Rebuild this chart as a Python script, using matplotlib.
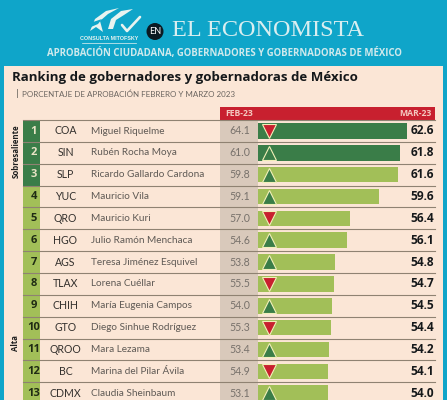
import matplotlib
matplotlib.use("Agg")
import matplotlib.pyplot as plt
from matplotlib.patches import Rectangle, Polygon, Circle

# data
ranks = list(range(1, 14))
states = ["COA", "SIN", "SLP", "YUC", "QRO", "HGO", "AGS", "TLAX", "CHIH", "GTO", "QROO", "BC", "CDMX"]
names = ["Miguel Riquelme", "Rubén Rocha Moya", "Ricardo Gallardo Cardona", "Mauricio Vila",
         "Mauricio Kuri", "Julio Ramón Menchaca", "Teresa Jiménez Esquivel", "Lorena Cuéllar",
         "María Eugenia Campos", "Diego Sinhue Rodríguez", "Mara Lezama",
         "Marina del Pilar Ávila", "Claudia Sheinbaum"]
feb23 = [64.1, 61.0, 59.8, 59.1, 57.0, 54.6, 53.8, 55.5, 54.0, 55.3, 53.4, 54.9, 53.1]
mar23 = [62.6, 61.8, 61.6, 59.6, 56.4, 56.1, 54.8, 54.7, 54.5, 54.4, 54.2, 54.1, 54.0]
n_top = 2  # rows with the dark bar

W, H = 447, 400
BLUE = "#0fa5c9"
CREAM = "#fbe6d6"
DARK = "#3a7d48"
LIGHT = "#a2bf58"
RED = "#c8202f"
ROW0, ROWH = 131.0, 21.85

fig = plt.figure(figsize=(W / 100, H / 100), dpi=100, facecolor=BLUE)

# page in pixel coordinates
bg = fig.add_axes([0, 0, 1, 1])
bg.set_xlim(0, W)
bg.set_ylim(H, 0)
bg.axis("off")

bg.add_patch(Rectangle((4, 65.5), 439, 340, fc=CREAM, ec="none"))

# logo
white = "#e8f3f0"
bg.add_patch(Polygon([(90, 31), (95, 19), (106, 11), (119, 8), (108, 14), (100, 21), (103, 32), (96, 27)], fc=white, ec="none"))
bg.add_patch(Polygon([(108, 29), (111, 19), (121, 11), (133, 9), (124, 15), (116, 20), (113, 29)], fc=white, ec="none"))
bg.add_patch(Polygon([(90, 23), (102, 19), (98, 24), (91, 27)], fc=BLUE, ec="none"))
bg.plot([122, 127, 140], [25, 31, 17], color=white, lw=1.9, solid_capstyle="round")
bg.text(109, 38.5, "CONSULTA MITOFSKY", color=white, fontsize=3.9, weight="bold", ha="center", va="center",
        family="Liberation Sans")
bg.plot([82, 136], [43, 43], color=white, lw=0.5)

bg.add_patch(Circle((155, 31.5), 8.5, fc="#0b1a22", ec="none"))
bg.text(155, 31.5, "EN", color="white", fontsize=6.5, ha="center", va="center", family="Lato")
bg.text(268, 31, "EL ECONOMISTA", color="#d9eef0", fontsize=17.5, ha="center", va="center",
        family="Liberation Serif")
bg.text(224, 53.5, "APROBACIÓN CIUDADANA, GOBERNADORES Y GOBERNADORAS DE MÉXICO", color="#cfe9ec",
        fontsize=6.95, weight="bold", ha="center", va="center", family="Open Sans")

bg.text(12, 77, "Ranking de gobernadores y gobernadoras de México", color="#15181a", fontsize=9.5,
        weight="bold", ha="left", va="center", family="Open Sans")
bg.plot([16.5, 16.5], [89, 97], color="#888078", lw=0.7)
bg.text(22, 94, "PORCENTAJE DE APROBACIÓN FEBRERO Y MARZO 2023", color="#6b6560", fontsize=5.8,
        ha="left", va="center", family="Lato")

# header band
bg.add_patch(Rectangle((220, 107), 214.5, 12.5, fc=RED, ec="none"))
bg.text(225.5, 113.5, "FEB-23", color="#f4c9c0", fontsize=6.2, weight="bold", ha="left", va="center", family="Open Sans")
bg.text(431.5, 113.5, "MAR-23", color="#f4c9c0", fontsize=6.2, weight="bold", ha="right", va="center", family="Open Sans")

# feb column shading
bg.add_patch(Rectangle((220, 119.5), 38, 290, fc="#d9c9bb", ec="none"))

for i, (rk, st, nm, fv, mv) in enumerate(zip(ranks, states, names, feb23, mar23)):
    yc = ROW0 + i * ROWH
    top = yc - ROWH / 2
    bg.add_patch(Rectangle((23, top), 17, ROWH, fc=DARK if i < 3 else LIGHT, ec="none"))
    bg.plot([23, 434.5], [top, top], color="#8f8272", lw=0.8)
    bg.text(34, yc, str(rk), color="#e9e4c6" if i < 3 else "#1f2b14", fontsize=8, weight="bold",
            ha="center", va="center", family="Open Sans")
    bg.text(65.5, yc, st, color="#33302d", fontsize=7.6, ha="center", va="center", family="Lato")
    bg.text(91, yc, nm, color="#5f5a55", fontsize=7.2, ha="left", va="center", family="Lato")
    bg.text(250, yc, f"{fv:.1f}", color="#77716b", fontsize=7.6, ha="right", va="center", family="Lato")
    bg.text(434, yc, f"{mv:.1f}", color="#15181a", fontsize=8.6, weight="bold", ha="right", va="center",
            family="Open Sans")

bg.text(16, 151.5, "Sobresaliente", color="#1e1e1e", fontsize=5.7, weight="bold", rotation=90,
        ha="center", va="center", family="Open Sans")
bg.text(16, 343.5, "Alta", color="#1e1e1e", fontsize=5.7, weight="bold", rotation=90,
        ha="center", va="center", family="Open Sans")

# bars on their own value scale: 258 px = 46.5, 407.3 px = 62.6
x0, x1 = 258.0, 407.3
y_top, y_bot = ROW0 - ROWH / 2, ROW0 + 12.5 * ROWH
ax = fig.add_axes([x0 / W, 1 - y_bot / H, (x1 - x0) / W, (y_bot - y_top) / H])
ax.set_xlim(46.5, 62.6)
ax.set_ylim(len(ranks) - 0.5, -0.5)
ax.axis("off")
ax.patch.set_alpha(0)
for i, mv in enumerate(mar23):
    ax.barh(i, mv - 46.5, left=46.5, height=0.71, color=DARK if i < n_top else LIGHT, zorder=2)

# change markers, up or down from feb to mar
mx = 46.5 + 11 / 9.27
for i, (fv, mv) in enumerate(zip(feb23, mar23)):
    up = mv >= fv
    fill = DARK if up else RED
    ax.plot(mx, i, marker="^" if up else "v", ms=9.5, mfc=fill, mec="#f2efb8", mew=0.8, zorder=3, ls="none",
            clip_on=False)

fig.savefig("out.png", dpi=100, facecolor=BLUE)
